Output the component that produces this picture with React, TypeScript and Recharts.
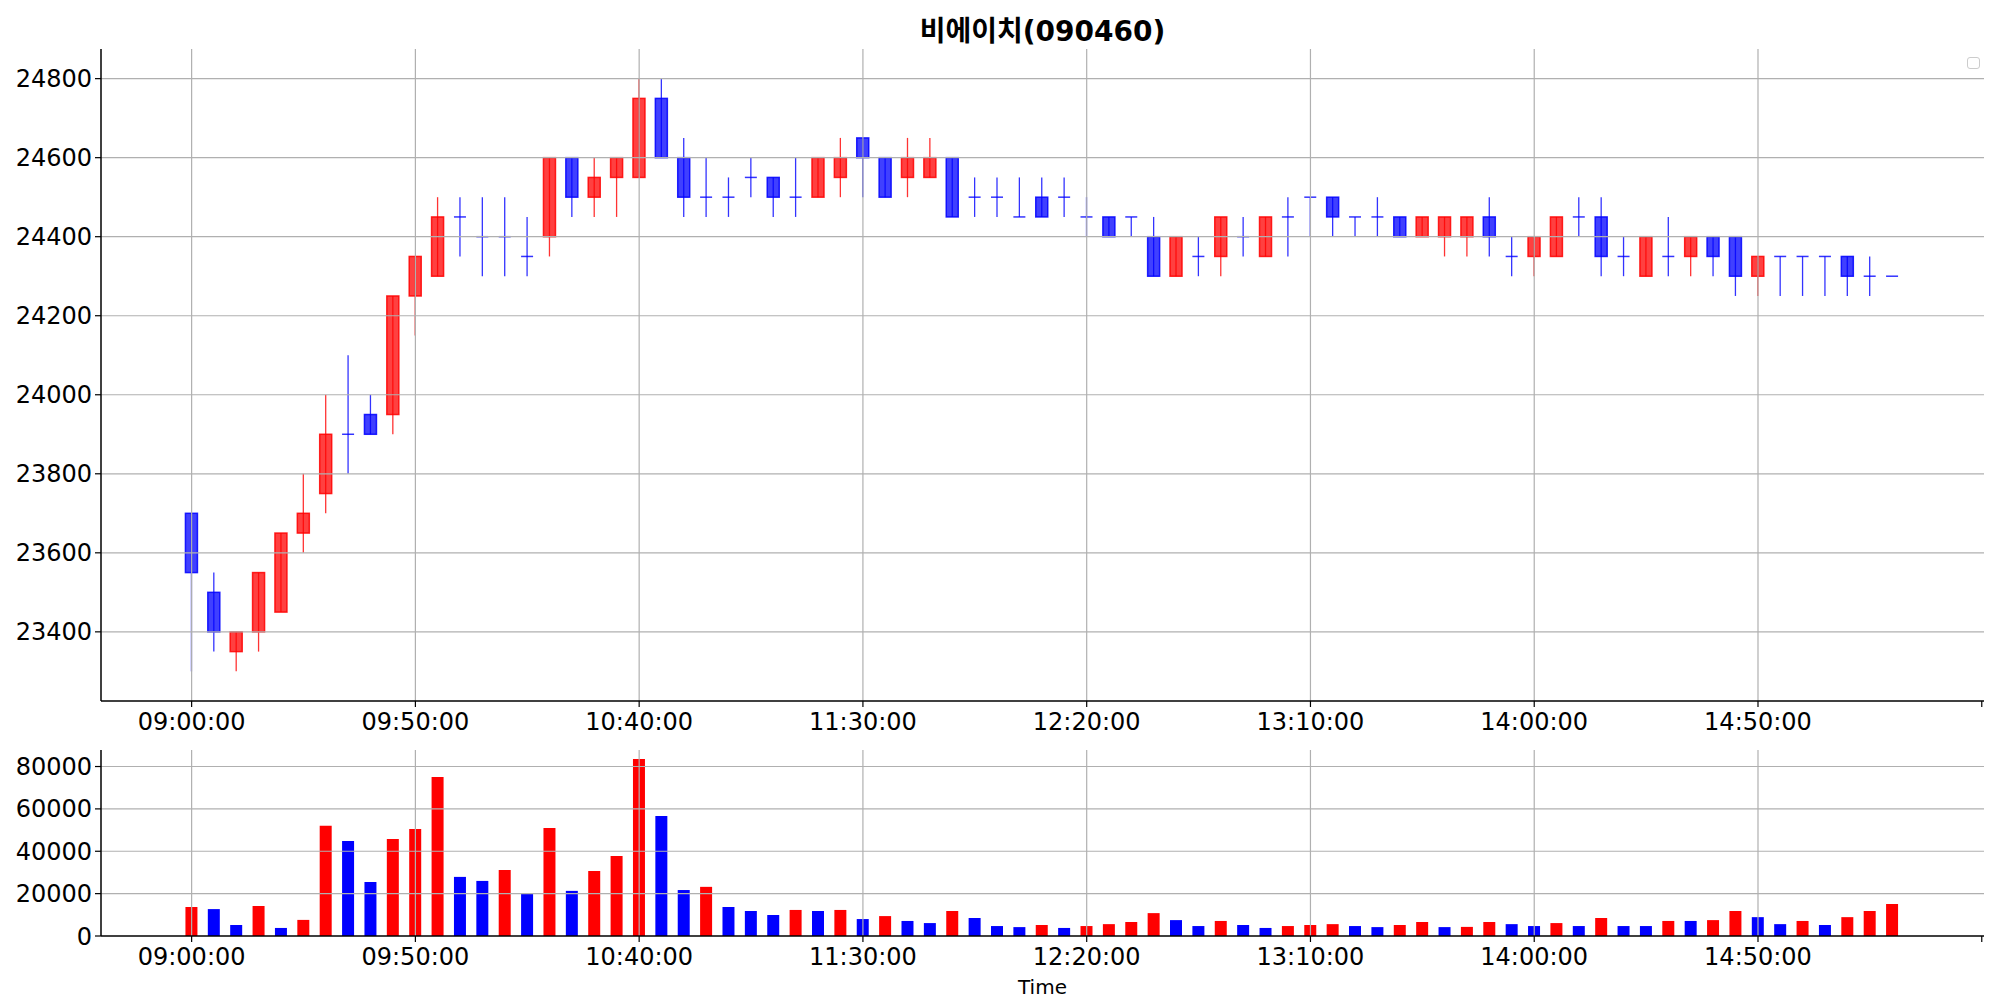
import React from "react";
import { ComposedChart, Bar, XAxis, YAxis, ReferenceLine, Cell } from "recharts";

const TITLE = "비에이치(090460)";

const TIMES = [
  "09:00:00", "09:05:00", "09:10:00", "09:15:00", "09:20:00", "09:25:00", "09:30:00", "09:35:00", "09:40:00", "09:45:00",
  "09:50:00", "09:55:00", "10:00:00", "10:05:00", "10:10:00", "10:15:00", "10:20:00", "10:25:00", "10:30:00", "10:35:00",
  "10:40:00", "10:45:00", "10:50:00", "10:55:00", "11:00:00", "11:05:00", "11:10:00", "11:15:00", "11:20:00", "11:25:00",
  "11:30:00", "11:35:00", "11:40:00", "11:45:00", "11:50:00", "11:55:00", "12:00:00", "12:05:00", "12:10:00", "12:15:00",
  "12:20:00", "12:25:00", "12:30:00", "12:35:00", "12:40:00", "12:45:00", "12:50:00", "12:55:00", "13:00:00", "13:05:00",
  "13:10:00", "13:15:00", "13:20:00", "13:25:00", "13:30:00", "13:35:00", "13:40:00", "13:45:00", "13:50:00", "13:55:00",
  "14:00:00", "14:05:00", "14:10:00", "14:15:00", "14:20:00", "14:25:00", "14:30:00", "14:35:00", "14:40:00", "14:45:00",
  "14:50:00", "14:55:00", "15:00:00", "15:05:00", "15:10:00", "15:15:00", "15:20:00",
];

const OPEN = [
  23700, 23500, 23350, 23400, 23450, 23650, 23750, 23900, 23950, 23950,
  24250, 24300, 24450, 24400, 24400, 24350, 24400, 24600, 24500, 24550,
  24550, 24750, 24600, 24500, 24500, 24550, 24550, 24500, 24500, 24550,
  24650, 24600, 24550, 24550, 24600, 24500, 24500, 24450, 24500, 24500,
  24450, 24450, 24450, 24400, 24300, 24350, 24350, 24400, 24350, 24450,
  24500, 24500, 24450, 24450, 24450, 24400, 24400, 24400, 24450, 24350,
  24350, 24350, 24450, 24450, 24350, 24300, 24350, 24350, 24400, 24400,
  24300, 24350, 24350, 24350, 24350, 24300, 24300,
];

const HIGH = [
  23700, 23550, 23400, 23550, 23650, 23800, 24000, 24100, 24000, 24250,
  24350, 24500, 24500, 24500, 24500, 24450, 24600, 24600, 24600, 24600,
  24800, 24800, 24650, 24600, 24550, 24600, 24550, 24600, 24600, 24650,
  24650, 24600, 24650, 24650, 24600, 24550, 24550, 24550, 24550, 24550,
  24500, 24450, 24450, 24450, 24400, 24400, 24450, 24450, 24450, 24500,
  24500, 24500, 24450, 24500, 24450, 24450, 24450, 24450, 24500, 24400,
  24400, 24450, 24500, 24500, 24400, 24400, 24450, 24400, 24400, 24400,
  24350, 24350, 24350, 24350, 24350, 24350, 24300,
];

const LOW = [
  23300, 23350, 23300, 23350, 23450, 23600, 23700, 23800, 23900, 23900,
  24150, 24300, 24350, 24300, 24300, 24300, 24350, 24450, 24450, 24450,
  24550, 24600, 24450, 24450, 24450, 24500, 24450, 24450, 24500, 24500,
  24500, 24500, 24500, 24550, 24450, 24450, 24450, 24450, 24450, 24450,
  24400, 24400, 24400, 24300, 24300, 24300, 24300, 24350, 24350, 24350,
  24400, 24400, 24400, 24400, 24400, 24400, 24350, 24350, 24350, 24300,
  24300, 24350, 24400, 24300, 24300, 24300, 24300, 24300, 24300, 24250,
  24250, 24250, 24250, 24250, 24250, 24250, 24300,
];

const CLOSE = [
  23550, 23400, 23400, 23550, 23650, 23700, 23900, 23900, 23900, 24250,
  24350, 24450, 24450, 24400, 24400, 24350, 24600, 24500, 24550, 24600,
  24750, 24600, 24500, 24500, 24500, 24550, 24500, 24500, 24600, 24600,
  24600, 24500, 24600, 24600, 24450, 24500, 24500, 24450, 24450, 24500,
  24450, 24400, 24450, 24300, 24400, 24350, 24450, 24400, 24450, 24450,
  24500, 24450, 24450, 24450, 24400, 24450, 24450, 24450, 24400, 24350,
  24400, 24450, 24450, 24350, 24350, 24400, 24350, 24400, 24350, 24300,
  24350, 24350, 24350, 24350, 24300, 24300, 24300,
];

const VOLUME = [
  13700, 12700, 5200, 14200, 3800, 7600, 52000, 44900, 25500, 45800,
  50500, 75100, 27900, 26000, 31200, 19900, 51000, 21300, 30700, 37800,
  83600, 56700, 21700, 23200, 13700, 11800, 9900, 12300, 11800, 12300,
  8000, 9400, 7100, 6100, 11800, 8500, 4700, 4200, 5200, 3800,
  4700, 5600, 6600, 10800, 7500, 4700, 7100, 5200, 3800, 4700,
  5200, 5600, 4700, 4200, 5200, 6600, 4200, 4300, 6600, 5600,
  4700, 6100, 4700, 8500, 4700, 4700, 7100, 7100, 7500, 11800,
  8900, 5600, 7100, 5200, 8900, 11800, 15100,
];

const X_TICKS = [0, 10, 20, 30, 40, 50, 60, 70, 80];
const PRICE_TICKS = [23400, 23600, 23800, 24000, 24200, 24400, 24600, 24800];
const VOLUME_TICKS = [0, 20000, 40000, 60000, 80000];

const rows = TIMES.map((time, i) => ({
  i,
  time,
  open: OPEN[i],
  high: HIGH[i],
  low: LOW[i],
  close: CLOSE[i],
  volume: VOLUME[i],
}));

const X_DOMAIN: [number, number] = [-4.05, 80.1];
const FONT = "'DejaVu Sans', 'Noto Sans CJK KR', sans-serif";
const GRID = "#b0b0b0";
const UP = "#ff0000";
const DOWN = "#0000ff";

const tickStyle = { fontSize: 24, fill: "#000", fontFamily: FONT };
const axisLine = { stroke: "#000", strokeWidth: 1.5 };
const tickLine = { stroke: "#000", strokeWidth: 1.2 };

function timeLabel(i: number): string {
  return TIMES[i] ?? "";
}

// candle drawn inside the [low, high] range bar that recharts lays out
function Candle(props: any) {
  const { x, y, width, height, payload } = props;
  const { open, close, high, low } = payload;
  const up = close > open;
  const color = up ? UP : DOWN;
  const yTop = height >= 0 ? y : y + height;
  const h = Math.abs(height);
  const span = high - low;
  const toY = (v: number) => (span === 0 ? yTop : yTop + ((high - v) / span) * h);
  const cx = x + width / 2;
  const bodyTop = toY(Math.max(open, close));
  const bodyBottom = toY(Math.min(open, close));
  return (
    <g>
      {h > 0 && (
        <line x1={cx} x2={cx} y1={yTop} y2={yTop + h} stroke={color} strokeOpacity={0.8} strokeWidth={1.3} />
      )}
      {bodyBottom - bodyTop < 0.5 ? (
        <line x1={x} x2={x + width} y1={bodyTop} y2={bodyTop} stroke={color} strokeOpacity={0.8} strokeWidth={1.5} />
      ) : (
        <rect
          x={x}
          y={bodyTop}
          width={width}
          height={bodyBottom - bodyTop}
          fill={color}
          fillOpacity={0.75}
          stroke={color}
          strokeOpacity={0.85}
          strokeWidth={1.5}
        />
      )}
    </g>
  );
}

// grid goes on top of the marks, like the matplotlib original
function gridLines(yTicks: number[]) {
  return [
    ...yTicks.map((v) => <ReferenceLine key={"y" + v} y={v} stroke={GRID} strokeWidth={1.2} />),
    ...X_TICKS.slice(0, -1).map((v) => <ReferenceLine key={"x" + v} x={v} stroke={GRID} strokeWidth={1.2} />),
  ];
}

export default function App() {
  return (
    <div style={{ position: "absolute", left: 0, top: 0, width: 2000, height: 1000, background: "#fff" }}>
      <div
        style={{
          position: "absolute",
          left: 101,
          width: 1883,
          top: 15,
          textAlign: "center",
          fontFamily: FONT,
          fontWeight: "bold",
          fontSize: 28,
          lineHeight: "34px",
          color: "#000",
        }}
      >
        {TITLE}
      </div>
      <div
        style={{
          position: "absolute",
          left: 1967,
          top: 57,
          width: 11,
          height: 10,
          border: "1px solid #cccccc",
          borderRadius: 3,
          zIndex: 2,
        }}
      />

      <div style={{ position: "absolute", left: 0, top: 0 }}>
        <ComposedChart width={2000} height={740} data={rows} margin={{ top: 49, right: 16, bottom: 0, left: 0 }}>
          <XAxis
            dataKey="i"
            type="number"
            domain={X_DOMAIN}
            ticks={X_TICKS}
            interval={0}
            tickFormatter={timeLabel}
            tick={tickStyle}
            tickSize={6}
            tickMargin={6}
            axisLine={axisLine}
            tickLine={tickLine}
            height={39}
            allowDataOverflow
          />
          <XAxis xAxisId="top" orientation="top" type="number" domain={X_DOMAIN} tick={false} tickLine={false} axisLine={axisLine} height={0} allowDataOverflow />
          <YAxis
            type="number"
            domain={[23225, 24875]}
            ticks={PRICE_TICKS}
            interval={0}
            tick={tickStyle}
            tickSize={6}
            tickMargin={3}
            axisLine={axisLine}
            tickLine={tickLine}
            width={101}
            allowDataOverflow
          />
          <YAxis yAxisId="right" orientation="right" tick={false} tickLine={false} axisLine={axisLine} width={0} />
          <Bar
            dataKey={(d: any) => [d.low, d.high]}
            barSize={12}
            shape={<Candle />}
            isAnimationActive={false}
          />
          {gridLines(PRICE_TICKS)}
        </ComposedChart>
      </div>

      <div style={{ position: "absolute", left: 0, top: 740 }}>
        <ComposedChart width={2000} height={260} data={rows} margin={{ top: 10, right: 16, bottom: 0, left: 0 }}>
          <XAxis
            dataKey="i"
            type="number"
            domain={X_DOMAIN}
            ticks={X_TICKS}
            interval={0}
            tickFormatter={timeLabel}
            tick={tickStyle}
            tickSize={6}
            tickMargin={6}
            axisLine={axisLine}
            tickLine={tickLine}
            height={64}
            allowDataOverflow
            label={{ value: "Time", position: "insideBottom", offset: 6, fontSize: 20, fill: "#000", fontFamily: FONT }}
          />
          <XAxis xAxisId="top" orientation="top" type="number" domain={X_DOMAIN} tick={false} tickLine={false} axisLine={axisLine} height={0} allowDataOverflow />
          <YAxis
            type="number"
            domain={[0, 87800]}
            ticks={VOLUME_TICKS}
            interval={0}
            tick={tickStyle}
            tickSize={6}
            tickMargin={3}
            axisLine={axisLine}
            tickLine={tickLine}
            width={101}
            allowDataOverflow
          />
          <YAxis yAxisId="right" orientation="right" tick={false} tickLine={false} axisLine={axisLine} width={0} />
          <Bar dataKey="volume" barSize={12} isAnimationActive={false}>
            {rows.map((r, i) => (
              <Cell key={r.time} fill={i === 0 || r.volume > VOLUME[i - 1] ? UP : DOWN} />
            ))}
          </Bar>
          {gridLines(VOLUME_TICKS.slice(1))}
        </ComposedChart>
      </div>
    </div>
  );
}
